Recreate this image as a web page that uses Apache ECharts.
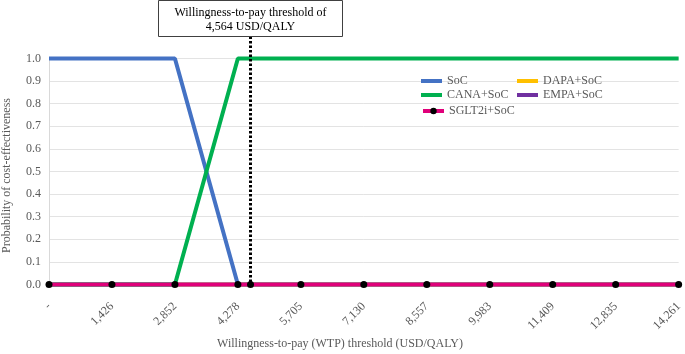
<!DOCTYPE html>
<html>
<head>
<meta charset="utf-8">
<script src="https://cdn.jsdelivr.net/npm/echarts@6/dist/echarts.min.js"></script>
<style>html,body{margin:0;padding:0;background:#fff;}#c{width:685px;height:354px;}</style>
</head>
<body>
<div id="c"></div>
<script>
// ---- data ----
const xValues = [0, 1426, 2852, 4278, 4564, 5705, 7130, 8557, 9983, 11409, 12835, 14261];
const socValues   = [1, 1, 1, 0, 0, 0, 0, 0, 0, 0, 0, 0];
const dapaValues  = [0, 0, 0, 0, 0, 0, 0, 0, 0, 0, 0, 0];
const canaValues  = [0, 0, 0, 1, 1, 1, 1, 1, 1, 1, 1, 1];
const empaValues  = [0, 0, 0, 0, 0, 0, 0, 0, 0, 0, 0, 0];
const sglt2Values = [0, 0, 0, 0, 0, 0, 0, 0, 0, 0, 0, 0];
const xTickLabels = ["-", "1,426", "2,852", "4,278", "5,705", "7,130", "8,557", "9,983", "11,409", "12,835", "14,261"];
const xTickStep = 1426.1;
const xMax = 14261;
const threshold = 4564;
const annotationLines = ["Willingness-to-pay threshold of", "4,564 USD/QALY"];
const xTitle = "Willingness-to-pay (WTP) threshold (USD/QALY)";
const yTitle = "Probability of cost-effectiveness";

const FONT = '"Liberation Serif","Times New Roman",serif';
const GRAY = '#595959';
const pairs = vals => xValues.map((x, i) => [x, vals[i]]);

function lineSeries(name, vals, color, width, withDots) {
  return {
    name, type: 'line', data: pairs(vals),
    symbol: withDots ? 'circle' : 'none', symbolSize: 7,
    showSymbol: !!withDots,
    itemStyle: { color: withDots ? '#000' : color, borderWidth: 0 },
    lineStyle: { color, width },
    emphasis: { disabled: true },
    animation: false, clip: false, z: 2
  };
}

const legendText = { color: GRAY, fontFamily: FONT, fontSize: 12 };
const chart = echarts.init(document.getElementById('c'), null, { renderer: 'canvas' });
const option = {
  animation: false,
  backgroundColor: '#fff',
  grid: { left: 49, right: 4, top: 58.5, bottom: 69.5 },
  xAxis: {
    type: 'value', min: 0, max: xMax, interval: xTickStep,
    axisLine: { show: false }, axisTick: { show: false },
    splitLine: { show: false },
    axisLabel: {
      rotate: 45, margin: 20, color: GRAY, fontFamily: FONT, fontSize: 12,
      showMinLabel: true, showMaxLabel: true,
      formatter: v => xTickLabels[Math.round(v / xTickStep)] ?? ''
    }
  },
  yAxis: {
    type: 'value', min: 0, max: 1, interval: 0.1,
    axisLine: { show: true, lineStyle: { color: '#D9D9D9', width: 1 } },
    axisTick: { show: false },
    splitLine: { show: true, lineStyle: { color: '#E3E3E3', width: 1 } },
    axisLabel: { color: GRAY, fontFamily: FONT, fontSize: 12, margin: 8, formatter: v => v.toFixed(1) }
  },
  legend: [
    {
      data: [{ name: 'SoC', icon: 'rect' }, { name: 'CANA+SoC', icon: 'rect' }],
      orient: 'vertical', left: 416, top: 70, itemWidth: 21, itemHeight: 4, itemGap: 2,
      textStyle: legendText, selectedMode: false
    },
    {
      data: [{ name: 'DAPA+SoC', icon: 'rect' }, { name: 'EMPA+SoC', icon: 'rect' }],
      orient: 'vertical', left: 512, top: 70, itemWidth: 21, itemHeight: 4, itemGap: 2,
      textStyle: legendText, selectedMode: false
    },
    {
      data: ['SGLT2i+SoC'],
      orient: 'vertical', left: 416, top: 100, itemWidth: 21, itemHeight: 8,
      lineStyle: { width: 4 },
      textStyle: legendText, selectedMode: false
    }
  ],
  series: [
    lineSeries('SoC', socValues, '#4472C4', 4, false),
    lineSeries('DAPA+SoC', dapaValues, '#FFC000', 4, false),
    lineSeries('CANA+SoC', canaValues, '#00B050', 4, false),
    lineSeries('EMPA+SoC', empaValues, '#7030A0', 4, false),
    lineSeries('SGLT2i+SoC', sglt2Values, '#E0007A', 3.5, true)
  ]
};
chart.setOption(option);

// positions derived from axes
const pBottom = chart.convertToPixel({ gridIndex: 0 }, [threshold, 0]);
const pMid = chart.convertToPixel({ gridIndex: 0 }, [0, 0.5]);
const boxW = 184, boxH = 36, boxTop = 0.5;
chart.setOption({
  graphic: [
    { id: 'xt', type: 'text', x: 340, y: 344,
      style: { text: xTitle, font: '12px ' + FONT, fill: GRAY, textAlign: 'center', textVerticalAlign: 'middle' } },
    { id: 'yt', type: 'text', x: 7, y: pMid[1] + 4, rotation: Math.PI / 2,
      style: { text: yTitle, font: '12px ' + FONT, fill: GRAY, textAlign: 'center', textVerticalAlign: 'middle' } },
    { id: 'vline', type: 'line', z: 10,
      shape: { x1: pBottom[0], y1: boxTop + boxH, x2: pBottom[0], y2: pBottom[1] },
      style: { stroke: '#000', lineWidth: 3, lineDash: [2.5, 2] } },
    { id: 'box', type: 'rect', z: 10,
      shape: { x: pBottom[0] - boxW / 2, y: boxTop, width: boxW, height: boxH },
      style: { fill: '#fff', stroke: '#404040', lineWidth: 1 } },
    { id: 'boxtxt', type: 'text', z: 11, x: pBottom[0], y: boxTop + boxH / 2 + 1.5,
      style: { text: annotationLines.join('\n'), font: '12px ' + FONT, fill: '#000', textAlign: 'center', textVerticalAlign: 'middle', lineHeight: 14 } }
  ]
});
</script>
</body>
</html>
